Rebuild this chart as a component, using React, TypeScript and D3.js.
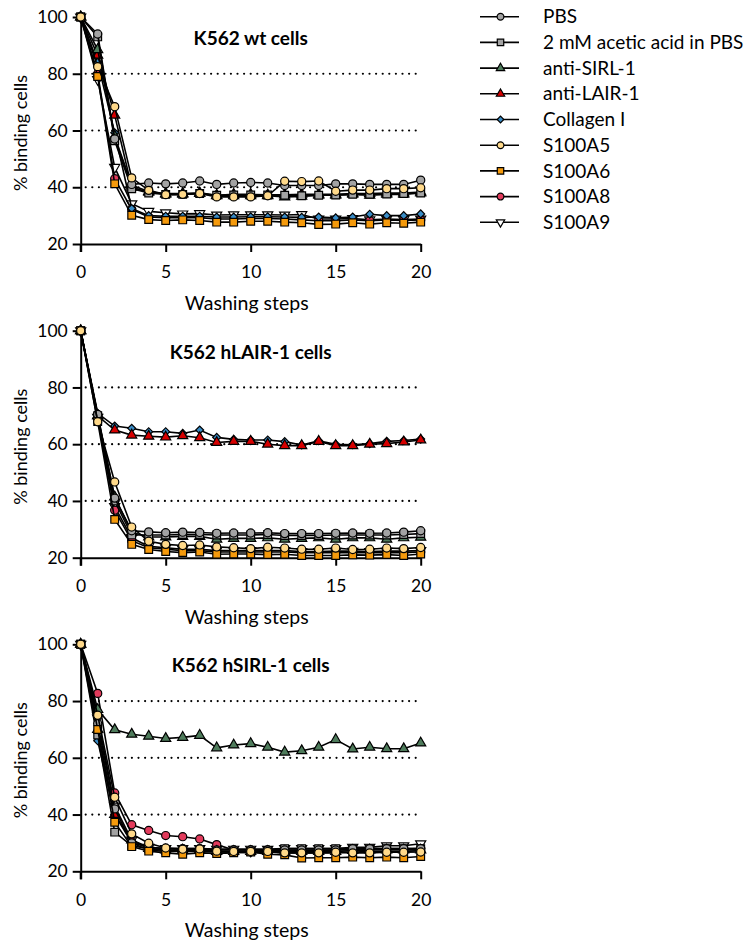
import React, { useRef, useEffect } from 'react';
import * as d3 from 'd3';

// washing steps (x categories)
const steps = [0, 1, 2, 3, 4, 5, 6, 7, 8, 9, 10, 11, 12, 13, 14, 15, 16, 17, 18, 19, 20];
const yTicks = [20, 40, 60, 80, 100];
const xTicks = [0, 5, 10, 15, 20];

const seriesNames = ['PBS', '2 mM acetic acid in PBS', 'anti-SIRL-1', 'anti-LAIR-1', 'Collagen I', 'S100A5', 'S100A6', 'S100A8', 'S100A9'];
const seriesColors = ['#a3a3a3', '#a3a3a3', '#4e7b5b', '#d60000', '#3a8cc6', '#ffd98a', '#f59a0c', '#e23b5c', '#ffffff'];
const seriesShapes = ['circle', 'square', 'triangle', 'triangle', 'diamond', 'circle', 'square', 'circle', 'triangleDown'];

const panelTitles = ['K562 wt cells', 'K562 hLAIR-1 cells', 'K562 hSIRL-1 cells'];

// % binding cells, one row per series (legend order)
const wtCells = [
  [100, 94, 57, 41, 41.5, 41.2, 41.5, 42.2, 41, 41.5, 41.7, 41.5, 40.6, 40.6, 40.6, 41.2, 41.2, 41, 41, 41, 42.5],
  [100, 93, 56.4, 39.5, 38, 37.5, 37.5, 37.8, 37.2, 37.3, 37.3, 37.3, 37.2, 37, 37.2, 37.3, 37.5, 37.5, 37.6, 37.8, 38],
  [100, 88.5, 58, 40.7, 38.5, 37.5, 37.5, 37.8, 37, 37, 37, 37, 36.6, 36.8, 37.2, 37.2, 37.5, 37.2, 37.5, 37.5, 38],
  [100, 86.5, 65.4, 40, 38.2, 37.8, 37.8, 38, 37.2, 37.5, 37.5, 37.3, 37.3, 37.5, 37.5, 37.5, 37.8, 37.8, 38, 38, 38.3],
  [100, 84, 59.2, 32.5, 30, 29.8, 29.8, 29.8, 29.5, 29.5, 29.6, 29.6, 29.5, 29.4, 29.5, 29.2, 29.5, 30.5, 30, 30, 30.6],
  [100, 82.5, 68.4, 43.3, 38.9, 37.4, 37.5, 37.8, 36.6, 36.6, 36.6, 37, 42.1, 42, 42.2, 38.6, 39, 39, 39.5, 39.5, 39.8],
  [100, 79, 41.2, 30.1, 28.6, 28.3, 28.5, 28.3, 27.7, 27.7, 28, 28, 27.7, 27.5, 26.9, 27, 27.5, 27, 27.5, 27.3, 27.7],
  [100, 80, 43, 32.2, 29.5, 29.3, 29.3, 29.3, 28.8, 28.8, 29, 29, 28.8, 28.5, 28.2, 28.2, 28.5, 28.2, 28.5, 28.3, 28.5],
  [100, 78, 47, 34.2, 31.5, 31, 30.6, 30.7, 30.2, 30.3, 30.3, 30.3, 30.2, 30.4, 28.8, 28.8, 29, 28.5, 28.8, 28.6, 28.8],
];

const hlairCells = [
  [100, 70.5, 41, 29.5, 29.1, 28.8, 29, 28.9, 28.6, 28.7, 28.7, 28.8, 28.5, 28.5, 28.5, 28.6, 28.7, 28.6, 28.7, 29, 29.5],
  [100, 70, 40, 28, 28, 28, 28.2, 28.2, 28, 28, 28, 28.2, 27.8, 27.8, 27.8, 28, 28, 28, 28, 28.2, 28.5],
  [100, 70, 41.4, 29, 27.3, 27.3, 27.5, 27.5, 26.5, 26.8, 26.8, 27, 26.5, 26.8, 27, 26.5, 27, 27, 26.5, 27, 27.2],
  [100, 70, 65, 63.2, 62.8, 62.5, 63, 62.3, 60.6, 61, 61, 60, 59.5, 59.5, 61, 59.5, 59.5, 60, 60.2, 60.8, 61.5],
  [100, 70.9, 66.4, 65.6, 64.4, 64.4, 63.8, 65, 62.4, 61.7, 61.5, 61.5, 60.9, 59.7, 61.2, 60, 59.8, 60.2, 61, 61.3, 61.8],
  [100, 67.9, 46.7, 30.8, 25.8, 24.7, 24.3, 24.5, 23.8, 23.5, 23.2, 23.7, 23.4, 23, 23, 23.4, 22.9, 23, 23.4, 23.2, 23.6],
  [100, 68, 33.5, 24.7, 22.9, 22.2, 21.8, 22, 21.2, 21.3, 21.3, 21.1, 21.2, 20.8, 20.8, 20.8, 21, 20.9, 21.1, 20.8, 21.3],
  [100, 69, 36.7, 26, 23.5, 23, 22.5, 22.5, 22, 22, 22, 22, 22, 21.8, 21.8, 21.8, 21.8, 21.8, 21.8, 21.8, 22],
  [100, 69.5, 38, 27, 24, 23.5, 23, 23, 22.5, 22.5, 22.5, 22.5, 22.5, 22.2, 22.2, 22.3, 22.3, 22.2, 22.3, 22.3, 22.5],
];

const hsirlCells = [
  [100, 72, 42, 30, 28.5, 28, 28, 28, 27.5, 27.5, 27.5, 27.5, 27.5, 27.5, 27.5, 27.5, 28, 28, 28, 28, 28],
  [100, 68, 33.8, 29, 28, 27.3, 27.2, 27.5, 27, 27, 27, 27.3, 28, 28, 28, 28, 28, 28, 28, 28, 28],
  [100, 77, 69.9, 68.3, 67.6, 66.8, 67.2, 67.9, 63.5, 64.5, 65, 63.7, 62, 62.5, 63.7, 66.4, 63.1, 63.7, 63.2, 63.2, 65.2],
  [100, 70, 40, 31, 28, 27.5, 27.5, 27.5, 27, 27, 27, 27, 27, 27, 27, 27, 27.3, 27.5, 27.5, 27.5, 27.5],
  [100, 66, 40, 30, 27.5, 27, 27, 27, 26.8, 26.8, 26.5, 26.8, 26.5, 26.5, 26.5, 26.5, 26.8, 27, 27, 27, 27.3],
  [100, 75, 46.1, 33.2, 29.9, 28.2, 27.8, 27.9, 27.1, 27, 27, 27, 26.5, 26.5, 26.5, 26.7, 26.5, 26.5, 26.7, 26.7, 26.8],
  [100, 70, 37.3, 28.7, 27.1, 26.5, 26, 26.5, 26.3, 26.5, 26.8, 26, 25.8, 24.7, 24.8, 24.8, 25, 24.8, 25, 24.8, 25.2],
  [100, 82.7, 47.6, 36.4, 34.4, 32.6, 32.2, 31.4, 29.4, 27.5, 27.5, 27.5, 27.3, 27.3, 27.3, 27.5, 27.5, 28, 27.8, 27.8, 28],
  [100, 74, 43, 31, 28.5, 28, 28, 28, 27.8, 27.8, 27.8, 27.8, 28, 28, 28, 28, 28.5, 28.5, 29, 29, 29.7],
];

const panelData = [wtCells, hlairCells, hsirlCells];

// draw order (index into legend order)
const drawOrder = [8, 7, 4, 3, 2, 1, 0, 6, 5];

const FONT = 'Lato, "Open Sans", sans-serif';

function symbolPath(shape: string, size: number) {
  const type =
    shape === 'circle' ? d3.symbolCircle :
    shape === 'square' || shape === 'diamond' ? d3.symbolSquare : d3.symbolTriangle;
  const s = shape === 'square' ? size * 1.15 : shape === 'diamond' ? size * 0.6 : shape.startsWith('triangle') ? size * 0.85 : size;
  return d3.symbol().type(type).size(s)();
}

function markerRotate(shape: string) {
  return shape === 'triangleDown' ? ' rotate(180)' : shape === 'diamond' ? ' rotate(45)' : '';
}

const App = () => {
  const svgRef = useRef<SVGSVGElement>(null);

  useEffect(() => {
    const svg = d3.select(svgRef.current);
    svg.selectAll('*').remove();

    const panelTops = [17, 330.7, 644.3];
    const plotH = 227;

    const x = d3.scaleLinear().domain([0, 20]).range([80.7, 420.7]);

    panelData.forEach((rows, p) => {
      const top = panelTops[p];
      const y = d3.scaleLinear().domain([20, 100]).range([top + plotH, top]);
      const g = svg.append('g');

      // dotted reference lines
      g.selectAll('.grid')
        .data([40, 60, 80])
        .join('line')
        .attr('x1', x(0) + 5)
        .attr('x2', x(20) - 4)
        .attr('y1', d => y(d))
        .attr('y2', d => y(d))
        .attr('stroke', '#000')
        .attr('stroke-width', 2.2)
        .attr('stroke-linecap', 'round')
        .attr('stroke-dasharray', '0,6.6');

      // axes
      const yAxis = d3.axisLeft(y).tickValues(yTicks).tickSize(8).tickSizeOuter(0).tickPadding(5);
      const ya = g.append('g').attr('transform', `translate(${x(0)},0)`).call(yAxis);
      const xAxis = d3.axisBottom(x).tickValues(xTicks).tickSize(8).tickSizeOuter(0).tickPadding(14);
      const xa = g.append('g').attr('transform', `translate(0,${y(20)})`).call(xAxis);
      [ya, xa].forEach(a => {
        a.select('.domain').attr('stroke', '#000').attr('stroke-width', 2);
        a.selectAll('.tick line').attr('stroke', '#000').attr('stroke-width', 2);
        a.selectAll('.tick text').attr('fill', '#000').style('font-family', FONT).style('font-size', '17.5px');
      });
      // extend y axis down to the x tick length
      g.append('line')
        .attr('x1', x(0)).attr('x2', x(0))
        .attr('y1', y(20)).attr('y2', y(20) + 8)
        .attr('stroke', '#000').attr('stroke-width', 2);

      g.append('text')
        .attr('x', (x(0) + x(20)) / 2 - 4)
        .attr('y', y(20) + 66)
        .attr('text-anchor', 'middle')
        .style('font-family', FONT)
        .style('font-size', '19.5px')
        .text('Washing steps');

      g.append('text')
        .attr('transform', `translate(27,${top + 116}) rotate(-90)`)
        .attr('text-anchor', 'middle')
        .style('font-family', FONT)
        .style('font-size', '18px')
        .text('% binding cells');

      g.append('text')
        .attr('x', (x(0) + x(20)) / 2)
        .attr('y', top + 28)
        .attr('text-anchor', 'middle')
        .style('font-family', FONT)
        .style('font-size', '19px')
        .style('font-weight', 'bold')
        .text(panelTitles[p]);

      const ln = d3.line<number>().x((_, i) => x(steps[i])).y(v => y(v));

      drawOrder.forEach(si => {
        const vals = rows[si];
        const sg = g.append('g');
        sg.append('path')
          .attr('d', ln(vals))
          .attr('fill', 'none')
          .attr('stroke', '#000')
          .attr('stroke-width', 1.6);
        sg.selectAll('path.m')
          .data(vals)
          .join('path')
          .attr('class', 'm')
          .attr('d', symbolPath(seriesShapes[si], 52))
          .attr('transform', (v, i) => `translate(${x(steps[i])},${y(v)})${markerRotate(seriesShapes[si])}`)
          .attr('fill', seriesColors[si])
          .attr('stroke', '#000')
          .attr('stroke-width', 1.2);
      });
    });

    // legend
    const lg = svg.append('g');
    seriesNames.forEach((name, i) => {
      const ly = 16.7 + i * 25.7;
      lg.append('line')
        .attr('x1', 480).attr('x2', 519)
        .attr('y1', ly).attr('y2', ly)
        .attr('stroke', '#000').attr('stroke-width', 1.6);
      lg.append('path')
        .attr('d', symbolPath(seriesShapes[i], 36))
        .attr('transform', `translate(500.5,${ly})${markerRotate(seriesShapes[i])}`)
        .attr('fill', seriesColors[i])
        .attr('stroke', '#000')
        .attr('stroke-width', 1.2);
      lg.append('text')
        .attr('x', 543)
        .attr('y', ly)
        .attr('dy', '0.35em')
        .style('font-family', FONT)
        .style('font-size', '19px')
        .text(name);
    });
  }, []);

  return (
    <svg
      ref={svgRef}
      width={755}
      height={944}
      style={{ position: 'absolute', left: 0, top: 0, background: '#fff' }}
    />
  );
};

export default App;
